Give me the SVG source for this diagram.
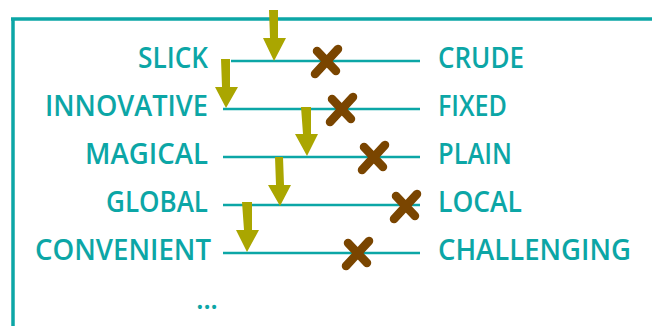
<svg xmlns="http://www.w3.org/2000/svg" xmlns:xlink="http://www.w3.org/1999/xlink" width="652" height="326" viewBox="0 0 652 326">
<style>
.lbl{font-family:"Open Sans","Liberation Sans",Arial,sans-serif;font-weight:600;font-size:28px;fill:#0ca6a6;}
.l{text-anchor:end;}
.scale{stroke:#0ca6a6;stroke-width:2.6;fill:none;}
.frame{stroke:#0ca6a6;stroke-width:3.5;fill:none;}
.arrow{fill:#aaa600;}
.mark{stroke:#7a4500;stroke-width:8.5;stroke-linecap:round;fill:none;}
</style>
<defs>
<g id="x">
<path class="mark" d="M12,-12 L-11,13 M-9,-10 L10,10"/>
</g>
</defs>
<g id="frame">
<path class="frame" d="M11,19 H652 M13,19 V326"/>
</g>
<g id="connectors">
<line class="scale" x1="231" y1="61" x2="420" y2="61"/>
<line class="scale" x1="223" y1="109" x2="420" y2="109"/>
<line class="scale" x1="223" y1="157" x2="420" y2="157"/>
<line class="scale" x1="223" y1="205" x2="420" y2="205"/>
<line class="scale" x1="223" y1="253" x2="420" y2="253"/>
</g>
<g id="row1">
<text class="lbl l" x="208" y="68" textLength="70" lengthAdjust="spacingAndGlyphs">SLICK</text>
<text class="lbl" x="438" y="68" textLength="86" lengthAdjust="spacingAndGlyphs">CRUDE</text>
<polygon class="arrow" points="269,10 278,10 278,38 286,38 274,61 263,38 270,38"/>
<use xlink:href="#x" x="326" y="61"/>
</g>
<g id="row2">
<text class="lbl l" x="208" y="116" textLength="163" lengthAdjust="spacingAndGlyphs">INNOVATIVE</text>
<text class="lbl" x="438" y="116" textLength="69" lengthAdjust="spacingAndGlyphs">FIXED</text>
<polygon class="arrow" points="221,59 230,59 230,87 238,87 226,108 215,87 222,87"/>
<use xlink:href="#x" x="341" y="109"/>
</g>
<g id="row3">
<text class="lbl l" x="208" y="164" textLength="123" lengthAdjust="spacingAndGlyphs">MAGICAL</text>
<text class="lbl" x="438" y="164" textLength="74" lengthAdjust="spacingAndGlyphs">PLAIN</text>
<polygon class="arrow" points="301,107 311,107 311,134 318,134 307,156 295,134 303,134"/>
<use xlink:href="#x" x="373" y="157"/>
</g>
<g id="row4">
<text class="lbl l" x="208" y="212" textLength="102" lengthAdjust="spacingAndGlyphs">GLOBAL</text>
<text class="lbl" x="438" y="212" textLength="84" lengthAdjust="spacingAndGlyphs">LOCAL</text>
<polygon class="arrow" points="275,157 283,157 284,185 291,185 280,206 268,185 276,185"/>
<use xlink:href="#x" x="405" y="206"/>
</g>
<g id="row5">
<text class="lbl l" x="211" y="260" textLength="176" lengthAdjust="spacingAndGlyphs">CONVENIENT</text>
<text class="lbl" x="438" y="260" textLength="193" lengthAdjust="spacingAndGlyphs">CHALLENGING</text>
<polygon class="arrow" points="242,202 252,202 252,230 259,230 247,252 236,230 244,230"/>
<use xlink:href="#x" x="357" y="253"/>
</g>
<g id="more">
<text class="lbl l" x="218" y="309" textLength="22" lengthAdjust="spacing">...</text>
</g>
</svg>
